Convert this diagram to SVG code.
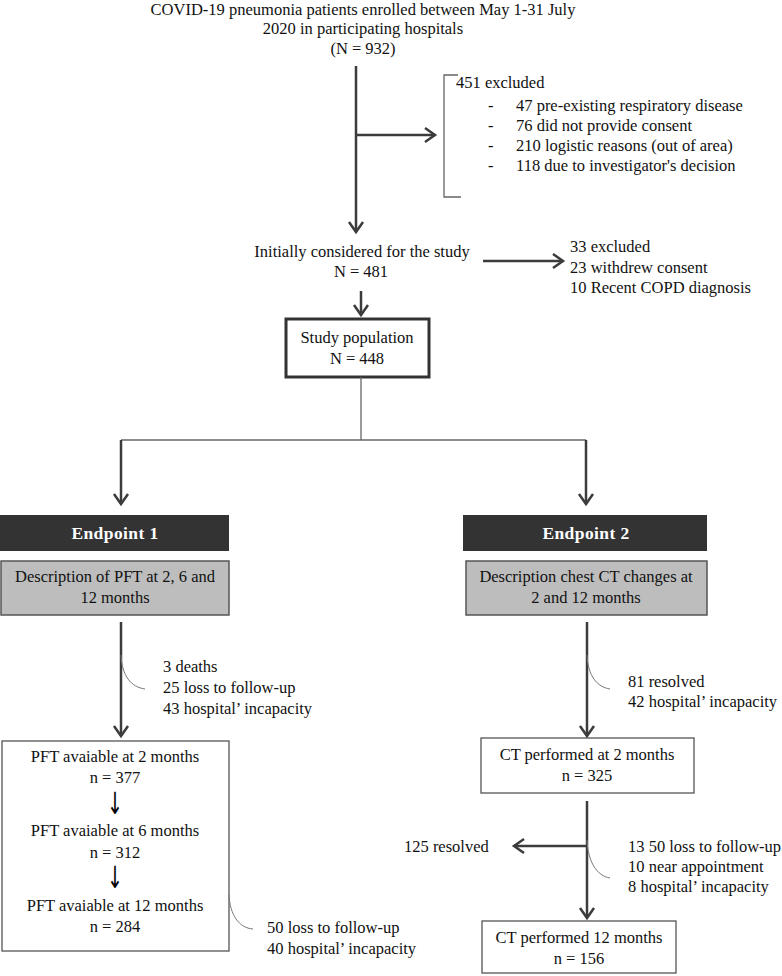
<svg xmlns="http://www.w3.org/2000/svg" width="782" height="976" viewBox="0 0 782 976">
<defs>
<style>
.t{font-family:"Liberation Serif","Times New Roman",serif;font-size:16.5px;fill:#111}
.c{text-anchor:middle}
.ep{font-family:"Liberation Serif","Times New Roman",serif;font-size:17.5px;font-weight:bold;fill:#fff;text-anchor:middle;letter-spacing:0.4px}
.ar{stroke:#3c3c3c;stroke-width:2.5;fill:none;marker-end:url(#ah)}
.thin{stroke:#666;stroke-width:1.3;fill:none}
.cv{stroke:#777;stroke-width:1;fill:none}
.box{fill:#fff;stroke:#555;stroke-width:1.3}
.desc{fill:#bdbdbd;stroke:#555;stroke-width:1.5}
.dark{fill:#333}
.da{font-family:"DejaVu Sans",sans-serif;font-size:19px;fill:#000;text-anchor:middle}
</style>
<marker id="ah" markerUnits="userSpaceOnUse" markerWidth="16" markerHeight="20" viewBox="-13 -10 16 20" refX="0" refY="0" orient="auto">
<path d="M-10,-7 L0,0 L-10,7" fill="none" stroke="#3c3c3c" stroke-width="2.5"/>
</marker>
</defs>

<g id="title">
<text class="t c" x="363" y="15">COVID-19 pneumonia patients enrolled between May 1-31 July</text>
<text class="t c" x="363" y="34">2020 in participating hospitals</text>
<text class="t c" x="363" y="54">(N = 932)</text>
</g>

<g id="excluded451">
<path class="thin" d="M458,75 L444,75 L444,197 L461,197"/>
<text class="t" x="456" y="88">451 excluded</text>
<text class="t" x="488" y="111">-</text>
<text class="t" x="516" y="111">47 pre-existing respiratory disease</text>
<text class="t" x="488" y="131">-</text>
<text class="t" x="516" y="131">76 did not provide consent</text>
<text class="t" x="488" y="151">-</text>
<text class="t" x="516" y="151">210 logistic reasons (out of area)</text>
<text class="t" x="488" y="171">-</text>
<text class="t" x="516" y="171">118 due to investigator's decision</text>
</g>

<g id="initial">
<text class="t c" x="362" y="257">Initially considered for the study</text>
<text class="t c" x="361" y="277">N = 481</text>
</g>

<g id="excluded33">
<text class="t" x="570" y="252">33 excluded</text>
<text class="t" x="570" y="273">23 withdrew consent</text>
<text class="t" x="570" y="293">10 Recent COPD diagnosis</text>
</g>

<g id="study">
<rect x="286" y="319" width="143" height="58" fill="#fff" stroke="#333" stroke-width="3"/>
<text class="t c" x="357" y="343">Study population</text>
<text class="t c" x="357" y="364">N = 448</text>
</g>

<g id="endpoint1">
<rect class="dark" x="0" y="515" width="229" height="36"/>
<text class="ep" x="115" y="539">Endpoint 1</text>
</g>
<g id="desc1">
<rect class="desc" x="1" y="561" width="228" height="54"/>
<text class="t c" x="115" y="582">Description of PFT at 2, 6 and</text>
<text class="t c" x="115" y="603">12 months</text>
</g>

<g id="endpoint2">
<rect class="dark" x="463" y="515" width="244" height="36"/>
<text class="ep" x="586" y="539">Endpoint 2</text>
</g>
<g id="desc2">
<rect class="desc" x="466" y="561" width="241" height="54"/>
<text class="t c" x="586" y="582">Description chest CT changes at</text>
<text class="t c" x="586" y="603">2 and 12 months</text>
</g>

<g id="loss1">
<text class="t" x="163" y="672">3 deaths</text>
<text class="t" x="163" y="693">25 loss to follow-up</text>
<text class="t" x="163" y="714">43 hospital’ incapacity</text>
</g>

<g id="pft">
<rect class="box" x="2" y="741" width="227" height="210" stroke="#444" stroke-width="1.5"/>
<text class="t c" x="115" y="762">PFT avaiable at 2 months</text>
<text class="t c" x="115" y="783">n = 377</text>
<text class="da" transform="translate(115,814) scale(1,1.6)">↓</text>
<text class="t c" x="115" y="836">PFT avaiable at 6 months</text>
<text class="t c" x="115" y="858">n = 312</text>
<text class="da" transform="translate(115,888) scale(1,1.6)">↓</text>
<text class="t c" x="115" y="911">PFT avaiable at 12 months</text>
<text class="t c" x="115" y="932">n = 284</text>
</g>

<g id="loss2">
<text class="t" x="267" y="933">50 loss to follow-up</text>
<text class="t" x="267" y="954">40 hospital’ incapacity</text>
</g>

<g id="resolved81">
<text class="t" x="628" y="687">81 resolved</text>
<text class="t" x="628" y="707">42 hospital’ incapacity</text>
</g>

<g id="ct2">
<rect class="box" x="481" y="738" width="213" height="55"/>
<text class="t c" x="587" y="760">CT performed at 2 months</text>
<text class="t c" x="587" y="781">n = 325</text>
</g>

<g id="resolved125">
<text class="t" x="404" y="852">125 resolved</text>
</g>

<g id="loss3">
<text class="t" x="628" y="852">13 50 loss to follow-up</text>
<text class="t" x="628" y="872">10 near appointment</text>
<text class="t" x="628" y="892">8 hospital’ incapacity</text>
</g>

<g id="ct12">
<rect class="box" x="482" y="921" width="194" height="52"/>
<text class="t c" x="579" y="943">CT performed 12 months</text>
<text class="t c" x="579" y="964">n = 156</text>
</g>

<g id="connectors">
<path class="ar" d="M356,66 L356,232"/>
<path class="ar" d="M356,135 L435,135"/>
<path class="ar" d="M483,261 L563,261"/>
<path class="ar" d="M361,291 L361,315"/>
<path class="thin" d="M361,377 L361,440"/>
<path class="thin" d="M121,440 L586,440"/>
<path class="ar" d="M121,440 L121,504"/>
<path class="ar" d="M586,440 L586,504"/>
<path class="ar" d="M121,622 L121,736"/>
<path class="cv" d="M121,655 C122,676 131,687 145,689"/>
<path class="cv" d="M229,895 C230,915 239,928 253,929"/>
<path class="ar" d="M587,622 L587,736"/>
<path class="cv" d="M587,655 C588,676 597,687 610,689"/>
<path class="ar" d="M587,801 L587,918"/>
<path class="ar" d="M587,846 L514,846"/>
<path class="cv" d="M587,840 C588,862 597,876 610,878"/>
</g>
</svg>
